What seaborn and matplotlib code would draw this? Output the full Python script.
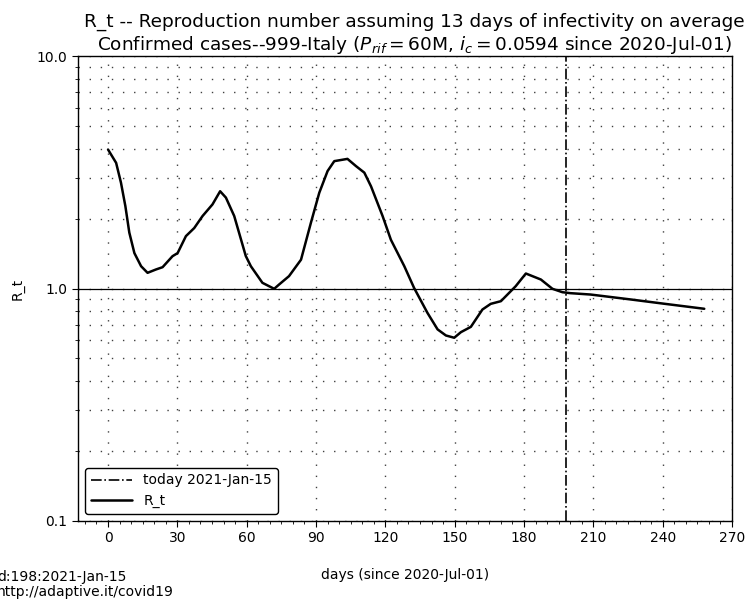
import numpy as np
import pandas as pd
import seaborn as sb
import matplotlib
matplotlib.use("Agg")
import matplotlib.pyplot as plt
from matplotlib.ticker import LogLocator, MultipleLocator, FixedLocator, FixedFormatter

# values (day since 2020-Jul-01, R_t)
days = [0, 3.5, 5.6, 7.5, 9.2, 11.4, 14.3, 17.1, 20.7, 23.6, 27.9, 30.1, 33.7,
        37.3, 40.9, 45.2, 48.5, 51, 54.6, 59.6, 61.8, 66.8, 71.9, 74, 78.3,
        83.5, 87.8, 91.4, 95, 97.9, 103.6, 107.3, 110.9, 113.8, 118.8, 122.4,
        128.2, 132.4, 138.2, 142.6, 146.2, 149.8, 152.7, 157, 162, 165.6, 170,
        176.4, 180.8, 187.3, 192.3, 196.6, 200, 208.8, 226.2, 240.6, 258]
rt = [3.96, 3.47, 2.85, 2.26, 1.74, 1.42, 1.247, 1.168, 1.207, 1.235, 1.377,
      1.42, 1.68, 1.82, 2.05, 2.30, 2.62, 2.46, 2.05, 1.38, 1.247, 1.058, 0.997,
      1.04, 1.13, 1.33, 1.92, 2.58, 3.20, 3.53, 3.61, 3.36, 3.15, 2.75, 2.05,
      1.62, 1.247, 1.007, 0.786, 0.667, 0.628, 0.614, 0.649, 0.684, 0.812,
      0.859, 0.882, 1.023, 1.16, 1.093, 0.997, 0.964, 0.955, 0.942, 0.897,
      0.860, 0.818]

today = 198
today_label = "today 2021-Jan-15"
title = ("R_t -- Reproduction number assuming 13 days of infectivity on average\n"
         "Confirmed cases--999-Italy ($P_{rif}=$60M, $i_c=$0.0594 since 2020-Jul-01)")
xticks = [0, 30, 60, 90, 120, 150, 180, 210, 240, 270]
yticks = [0.1, 1.0, 10.0]
ytick_labels = ["0.1", "1.0", "10.0"]

sb.set_style("ticks")
plt.rcParams['font.family'] = ['DejaVu Sans']
plt.rcParams['text.color'] = 'k'
plt.rcParams['axes.labelcolor'] = 'k'
plt.rcParams['xtick.color'] = 'k'
plt.rcParams['ytick.color'] = 'k'

df = pd.DataFrame({"days": days, "R_t": rt})

fig = plt.figure(figsize=(7.48, 6.03), dpi=100)
ax = fig.add_axes([78 / 748, 1 - 521 / 603, (732 - 78) / 748, (521 - 56) / 603])

ax.axvline(today, color="k", ls="-.", lw=1.2, label=today_label)
sb.lineplot(data=df, x="days", y="R_t", color="k", lw=1.8, ax=ax, label="R_t")
ax.axhline(1.0, color="k", lw=0.9)

ax.set_yscale("log")
ax.set_ylim(0.1, 10)
ax.set_xlim(-13, 270)
ax.yaxis.set_major_locator(FixedLocator(yticks))
ax.yaxis.set_major_formatter(FixedFormatter(ytick_labels))
ax.yaxis.set_minor_locator(LogLocator(base=10, subs=np.arange(2, 10)))
ax.yaxis.set_minor_formatter(FixedFormatter([]))
ax.xaxis.set_major_locator(FixedLocator(xticks))
ax.xaxis.set_minor_locator(MultipleLocator(5))

ax.grid(True, axis="x", which="major", color="0.25", lw=1, ls=(0, (1, 7)))
ax.grid(True, axis="y", which="both", color="0.25", lw=1, ls=(0, (1, 7)))

ax.tick_params(which="both", direction="out", color="k", labelsize=10)
ax.tick_params(which="major", length=4)
ax.tick_params(which="minor", length=2.5)
for s in ax.spines.values():
    s.set_color("k")
    s.set_linewidth(1)

ax.set_title(title, fontsize=13.3, pad=4, x=0.515)
ax.set_ylabel("R_t", fontsize=10, labelpad=9)
ax.set_xlabel("days (since 2020-Jul-01)", fontsize=10, labelpad=16)

leg = ax.legend(loc="lower left", fontsize=10, frameon=True, fancybox=True,
                edgecolor="k", framealpha=1, handlelength=3)
leg.get_frame().set_linewidth(1)

fig.text(-0.004, 1 - 599 / 603, "d:198:2021-Jan-15\nhttp://adaptive.it/covid19",
         fontsize=10, ha="left", va="bottom", linespacing=1.1)

fig.savefig("out.png", dpi=100)
